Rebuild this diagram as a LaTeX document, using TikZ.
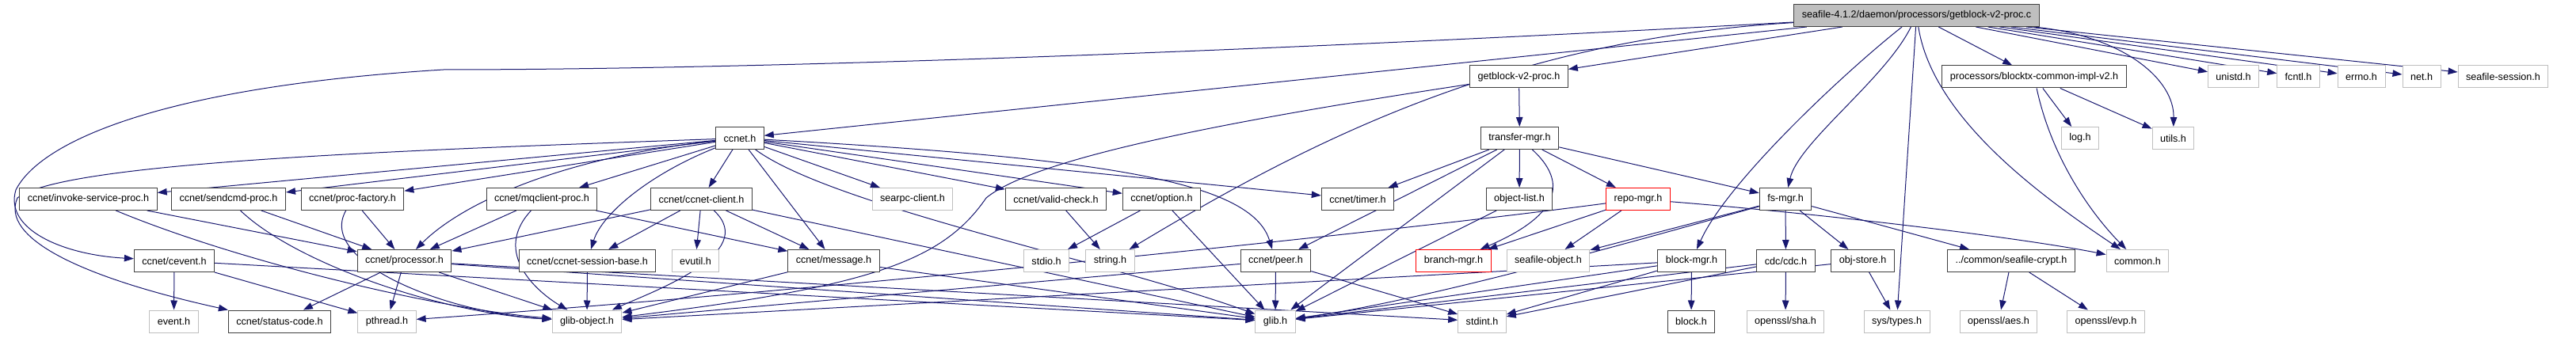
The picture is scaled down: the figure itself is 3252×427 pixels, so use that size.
\documentclass[tikz,border=0pt]{standalone}
\usepackage{fontspec}
\setmainfont{Liberation Sans}
\usetikzlibrary{arrows.meta,backgrounds}
\definecolor{edgeblue}{RGB}{25,25,112}
\definecolor{extgray}{RGB}{191,191,191}
\tikzset{
  filebox/.style={draw=black!75, line width=1pt, fill=white, minimum height=28pt,
    inner xsep=10pt, inner ysep=0pt, font=\fontsize{12.6}{14}\selectfont},
  extbox/.style={filebox, draw=extgray},
  redbox/.style={filebox, draw=red},
  rootbox/.style={filebox, fill=extgray},
  inc/.style={draw=edgeblue, line width=1pt, -{Triangle[length=12pt,width=8.5pt]}},
}
\begin{document}
\begin{tikzpicture}[x=1pt,y=-1pt]
\useasboundingbox (0,0) rectangle (3252,427);

% top file
\node[rootbox] (root) at (2419.5,19.5) {seafile-4.1.2/daemon/processors/getblock-v2-proc.c};

% row 1
\node[filebox] (gbh) at (1917.5,97) {getblock-v2-proc.h};
\node[filebox] (btx) at (2568,97) {processors/blocktx-common-impl-v2.h};
\node[extbox] (unistd) at (2819.5,97) {unistd.h};
\node[extbox] (fcntl) at (2901.5,97) {fcntl.h};
\node[extbox] (errno) at (2981,97) {errno.h};
\node[extbox] (net) at (3057,97) {net.h};
\node[extbox] (sess) at (3160,97) {seafile-session.h};

% row 2
\node[filebox] (ccnet) at (934,174.5) {ccnet.h};
\node[filebox] (tmgr) at (1918.5,174.5) {transfer-mgr.h};
\node[extbox] (logh) at (2626,174.5) {log.h};
\node[extbox] (utils) at (2743.5,174.5) {utils.h};

% row 3
\node[filebox] (invoke) at (111.5,251.5) {ccnet/invoke-service-proc.h};
\node[filebox] (sendcmd) at (288.5,251.5) {ccnet/sendcmd-proc.h};
\node[filebox] (procfac) at (445,251.5) {ccnet/proc-factory.h};
\node[filebox] (mqcl) at (684,251.5) {ccnet/mqclient-proc.h};
\node[filebox] (cclient) at (885.5,251.5) {ccnet/ccnet-client.h};
\node[extbox] (searpc) at (1152,251.5) {searpc-client.h};
\node[filebox] (valid) at (1333,251.5) {ccnet/valid-check.h};
\node[filebox] (option) at (1466.5,251.5) {ccnet/option.h};
\node[filebox] (timer) at (1714,251.5) {ccnet/timer.h};
\node[filebox] (objlist) at (1918,251.5) {object-list.h};
\node[redbox] (repomgr) at (2068,251.5) {repo-mgr.h};
\node[filebox] (fsmgr) at (2254,251.5) {fs-mgr.h};

% row 4
\node[filebox] (cevent) at (220,329.5) {ccnet/cevent.h};
\node[filebox] (processor) at (510.5,329.5) {ccnet/processor.h};
\node[filebox] (sessbase) at (741.5,329.5) {ccnet/ccnet-session-base.h};
\node[extbox] (evutil) at (878,329.5) {evutil.h};
\node[filebox] (message) at (1052.5,329.5) {ccnet/message.h};
\node[extbox] (stdio) at (1321,329.5) {stdio.h};
\node[extbox] (string) at (1401.5,329.5) {string.h};
\node[filebox] (peer) at (1610.5,329.5) {ccnet/peer.h};
\node[redbox] (branch) at (1835,329.5) {branch-mgr.h};
\node[extbox] (seafobj) at (1954.5,329.5) {seafile-object.h};
\node[filebox] (blockmgr) at (2135.5,329.5) {block-mgr.h};
\node[filebox] (cdc) at (2254.5,329.5) {cdc/cdc.h};
\node[filebox] (objstore) at (2351.5,329.5) {obj-store.h};
\node[filebox] (crypt) at (2539,329.5) {../common/seafile-crypt.h};
\node[extbox] (common) at (2698.5,329.5) {common.h};

% row 5
\node[extbox] (event) at (219.5,406) {event.h};
\node[filebox] (status) at (353,406) {ccnet/status-code.h};
\node[extbox] (pthread) at (488.5,406) {pthread.h};
\node[extbox] (gobject) at (741,406) {glib-object.h};
\node[extbox] (glib) at (1610,406) {glib.h};
\node[extbox] (stdint) at (1871,406) {stdint.h};
\node[filebox] (block) at (2135,406) {block.h};
\node[extbox] (sha) at (2254,406) {openssl/sha.h};
\node[extbox] (systypes) at (2394.5,406) {sys/types.h};
\node[extbox] (aes) at (2523,406) {openssl/aes.h};
\node[extbox] (evp) at (2658.5,406) {openssl/evp.h};

\begin{scope}[on background layer]
% plain includes
\foreach \a/\b in {root/gbh, root/btx, root/unistd, root/fcntl, root/errno, root/net,
    root/sess, root/systypes, root/ccnet, btx/logh, btx/utils, gbh/tmgr,
    ccnet/invoke, ccnet/sendcmd, ccnet/procfac, ccnet/mqcl, ccnet/cclient,
    ccnet/searpc, ccnet/valid, ccnet/option, ccnet/timer, ccnet/message,
    tmgr/timer, tmgr/peer, tmgr/glib, tmgr/objlist, tmgr/repomgr, tmgr/fsmgr,
    invoke/processor, sendcmd/processor, procfac/processor,
    mqcl/processor, mqcl/message, cclient/processor, cclient/sessbase,
    cclient/evutil, cclient/message, cclient/glib, valid/string,
    option/stdio, option/glib, repomgr/branch, repomgr/seafobj,
    fsmgr/cdc, fsmgr/objstore, fsmgr/crypt, fsmgr/seafobj,
    cevent/event, cevent/pthread, cevent/glib,
    processor/status, processor/pthread, processor/gobject, processor/glib,
    processor/stdint, sessbase/gobject, message/gobject, message/glib,
    peer/glib, peer/stdint, peer/gobject, objlist/glib,
    blockmgr/block, blockmgr/glib, blockmgr/stdint, blockmgr/gobject,
    cdc/sha, cdc/glib, cdc/stdint, objstore/systypes, objstore/glib,
    crypt/aes, crypt/evp}
  \draw[inc] (\a) -- (\b);

% curved includes
\draw[inc] (root) .. controls (1500,70) and (900,88) .. (560,88)
  .. controls (200,110) and (50,180) .. (20,240)
  .. controls (5,290) and (80,322) .. (cevent);
\draw[inc] (ccnet) .. controls (500,190) and (80,205) .. (22,250)
  .. controls (0,300) and (100,350) .. (status);
\draw[inc] (root) .. controls (1900,50) and (1650,180) .. (string);
\draw[inc] (gbh) .. controls (1500,160) and (1300,205) .. (1245,250)
  .. controls (1190,330) and (1100,362) .. (gobject);
\draw[inc] (root) .. controls (2680,45) and (2745,100) .. (utils);
\draw[inc] (root) .. controls (2330,90) and (2180,230) .. (blockmgr);
\draw[inc] (root) .. controls (2380,100) and (2270,180) .. (fsmgr);
\draw[inc] (root) .. controls (2440,150) and (2580,250) .. (common);
\draw[inc] (btx) .. controls (2590,200) and (2640,270) .. (common);
\draw[inc] (tmgr) .. controls (1990,240) and (1950,280) .. (branch);
\draw[inc] (invoke) .. controls (300,330) and (550,390) .. (gobject);
\draw[inc] (sendcmd) .. controls (370,330) and (550,395) .. (gobject);
\draw[inc] (procfac) .. controls (400,330) and (560,395) .. (gobject);
\draw[inc] (mqcl) .. controls (620,320) and (680,370) .. (gobject);
\draw[inc] (cclient) .. controls (960,320) and (820,370) .. (gobject);
\draw[inc] (ccnet) .. controls (700,200) and (580,260) .. (processor);
\draw[inc] (ccnet) .. controls (820,220) and (760,270) .. (sessbase);
\draw[inc] (ccnet) .. controls (1400,200) and (1580,230) .. (peer);
\draw[inc] (ccnet) .. controls (1050,260) and (1400,330) .. (glib);
\draw[inc] (repomgr) .. controls (2300,270) and (2550,300) .. (common);
\draw[inc] (repomgr) .. controls (1700,300) and (1000,370) .. (pthread);
\draw[inc] (fsmgr) .. controls (2080,300) and (1800,380) .. (glib);
\end{scope}
\end{tikzpicture}
\end{document}
